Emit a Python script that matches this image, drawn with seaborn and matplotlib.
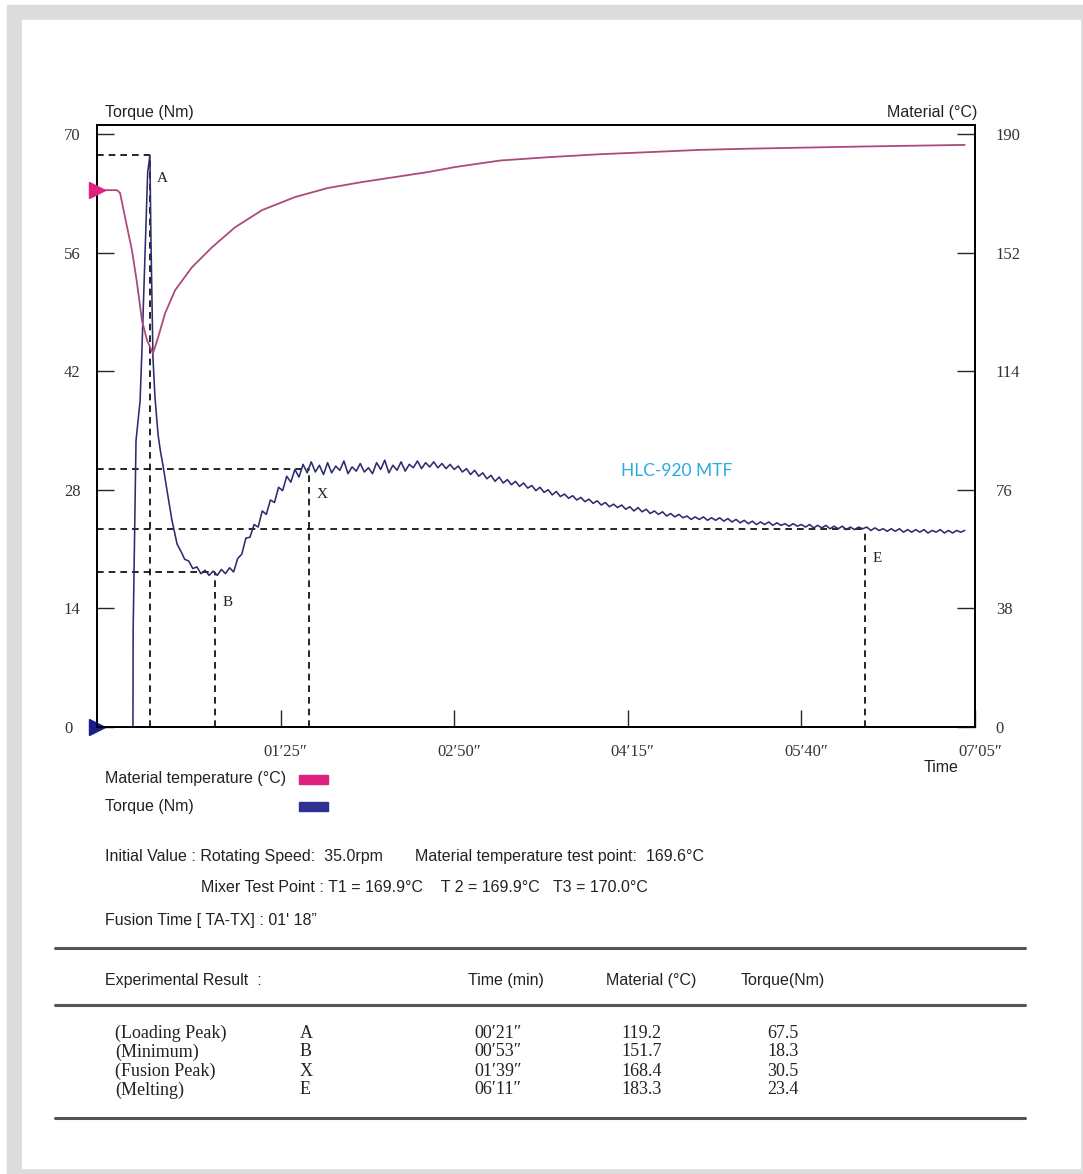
import numpy as np
import pandas as pd
import matplotlib
matplotlib.use("Agg")
import matplotlib.pyplot as plt
import seaborn as sns
from matplotlib import font_manager
from matplotlib.patches import Rectangle
from matplotlib.lines import Line2D
import matplotlib.transforms as mtransforms

# ---------------- data ----------------
# torque curve (time in s, torque in Nm)
torque_t_start = [-4.9, 12.7, 12.8, 14.2, 16.2, 17.1, 18.6, 19.9, 21.0, 21.5, 22.5, 23.5,
                  25.0, 26.2, 27.4, 29.4, 31.8, 34.3, 36.7, 38.0]
torque_v_start = [0, 0, 11.4, 33.8, 38.5, 44.5, 55.9, 65.4, 67.5, 57.8, 43.6, 38.9,
                  34.5, 32.5, 30.9, 27.9, 24.4, 21.6, 20.5, 19.8]
torque_t_rest = list(range(40, 421, 2))
torque_v_rest = [
    19.6, 18.7, 18.9, 18.1, 18.5, 17.9, 18.4, 17.9, 18.6, 18.1,
    18.8, 18.3, 19.9, 20.4, 22.3, 22.4, 23.9, 23.6, 25.5, 25.1,
    26.8, 26.5, 28.3, 27.9, 29.6, 28.9, 30.4, 29.5, 31.0, 30.0,
    31.3, 30.1, 30.9, 29.8, 31.2, 30.0, 30.8, 30.3, 31.4, 29.9,
    30.7, 30.2, 31.1, 30.1, 30.6, 29.9, 31.2, 30.4, 31.5, 30.0,
    30.9, 30.3, 31.3, 30.2, 31.0, 30.6, 31.4, 30.5, 31.2, 30.7,
    31.3, 30.6, 31.1, 30.5, 31.0, 30.4, 30.8, 30.1, 30.5, 29.8,
    30.3, 29.6, 30.0, 29.3, 29.7, 29.0, 29.5, 28.8, 29.2, 28.6,
    29.0, 28.4, 28.8, 28.2, 28.5, 27.9, 28.3, 27.7, 28.0, 27.4,
    27.8, 27.2, 27.5, 27.0, 27.3, 26.8, 27.1, 26.6, 26.9, 26.4,
    26.7, 26.2, 26.5, 26.0, 26.3, 25.9, 26.2, 25.7, 26.0, 25.5,
    25.9, 25.4, 25.7, 25.2, 25.5, 25.1, 25.4, 24.9, 25.2, 24.8,
    25.1, 24.7, 24.9, 24.5, 24.8, 24.5, 24.8, 24.4, 24.7, 24.4,
    24.7, 24.3, 24.6, 24.2, 24.5, 24.1, 24.4, 24.0, 24.3, 23.9,
    24.2, 23.9, 24.2, 23.8, 24.1, 23.8, 24.0, 23.7, 24.0, 23.7,
    23.9, 23.6, 23.9, 23.5, 23.8, 23.5, 23.8, 23.4, 23.7, 23.4,
    23.7, 23.3, 23.6, 23.3, 23.6, 23.4, 23.6, 23.2, 23.5, 23.2,
    23.4, 23.1, 23.4, 23.1, 23.4, 23.0, 23.3, 23.0, 23.3, 23.0,
    23.3, 22.9, 23.2, 23.0, 23.3, 22.9, 23.2, 22.9, 23.2, 23.0,
    23.2]

# material temperature curve (time in s, °C)
temp_t = [-4.9, 4.9, 6.4, 8.8, 12.2, 14.7, 17.1, 19.6, 22.5, 25.0, 28.4, 33.3, 41.6,
          51.4, 62.7, 75.9, 92.1, 108.2, 124.9, 141.0, 157.2, 170.4, 192.5, 217, 241,
          266, 290, 315, 339, 371, 420]
temp_v = [172.0, 172.0, 171.1, 163.4, 152.8, 142.2, 130.3, 123.9, 119.7, 124.8, 132.5,
          139.9, 147.3, 153.7, 160.1, 165.6, 169.8, 172.7, 174.6, 176.2, 177.8, 179.4,
          181.5, 182.6, 183.5, 184.2, 184.9, 185.3, 185.6, 186.0, 186.5]

# characteristic points
pt_names = ["(Loading Peak)", "(Minimum)", "(Fusion Peak)", "(Melting)"]
pt_letters = ["A", "B", "X", "E"]
pt_time_s = [21, 53, 99, 371]
pt_time_lbl = ["00\u203221\u2033", "00\u203253\u2033", "01\u203239\u2033", "06\u203211\u2033"]
pt_material = ["119.2", "151.7", "168.4", "183.3"]
pt_torque = [67.5, 18.3, 30.5, 23.4]

x_ticks = [85, 170, 255, 340, 425]
x_tick_labels = ["01\u203225\u2033", "02\u203250\u2033", "04\u203215\u2033", "05\u203240\u2033", "07\u203205\u2033"]
left_ticks = [0, 14, 28, 42, 56, 70]
right_ticks = [0, 38, 76, 114, 152, 190]

# ---------------- style ----------------
sns.set_style("white")
avail = {f.name for f in font_manager.fontManager.ttflist}
NARROW = "Liberation Sans Narrow" if "Liberation Sans Narrow" in avail else "Liberation Sans"
SANS = [NARROW, "DejaVu Sans"]
SERIF = ["Liberation Serif", "DejaVu Serif"]
plt.rcParams["font.family"] = SANS
TXT = 12.5 if NARROW == "Liberation Sans Narrow" else 11.5

W, H = 1083, 1174
fig = plt.figure(figsize=(W / 100, H / 100), dpi=100)
fig.patch.set_facecolor("white")


def fx(px):
    return px / W


def fy(py):
    return 1 - py / H


# frame
fig.patches.append(Rectangle((fx(7), fy(1174)), fx(1083) - fx(7), fy(5) - fy(1174),
                             transform=fig.transFigure, color="#dcdcde", zorder=-10))
fig.patches.append(Rectangle((fx(22), fy(1168)), fx(1080) - fx(22), fy(20) - fy(1168),
                             transform=fig.transFigure, color="white", zorder=-9))

ax = fig.add_axes([fx(97), fy(727), fx(975) - fx(97), fy(125) - fy(727)])
ax2 = ax.twinx()
XMIN, XMAX = -4.9, 425
YTOP = 71.06
ax.set_xlim(XMIN, XMAX)
ax.set_ylim(0, YTOP)
ax2.set_ylim(0, 190 * YTOP / 70)
ax.patch.set_alpha(0)

TORQUE_C = "#2c2c6e"
TEMP_C = "#ab4a7c"

df_torque = pd.DataFrame({"t": torque_t_start + torque_t_rest,
                          "torque": torque_v_start + torque_v_rest})
df_temp = pd.DataFrame({"t": temp_t, "temp": temp_v})

sns.lineplot(data=df_torque, x="t", y="torque", ax=ax, color=TORQUE_C, lw=1.15,
             estimator=None, sort=False, zorder=3)
sns.lineplot(data=df_temp, x="t", y="temp", ax=ax2, color=TEMP_C, lw=1.3,
             estimator=None, sort=False, zorder=3)

# reference dashed lines
dash = (0, (4, 3))
for t, v in zip(pt_time_s, pt_torque):
    ax.plot([XMIN, t], [v, v], color="black", lw=1.2, ls=dash, zorder=2)
    ax.plot([t, t], [0, v], color="black", lw=1.2, ls=dash, zorder=2)

# letters
letter_pos = [(26.9, 64.8), (58.8, 14.7), (105.3, 27.4), (377, 19.9)]
for (lx, ly), s in zip(letter_pos, pt_letters):
    ax.text(lx, ly, s, fontfamily=SERIF, fontsize=11, ha="center", va="center", color="#222222")

# start markers
ax2.plot([XMIN], [172], marker=">", ms=11, color="#e0207f", clip_on=False, zorder=5)
ax.plot([XMIN], [0], marker=">", ms=11, color="#1c1c8c", clip_on=False, zorder=5)

# axes styling
for a in (ax, ax2):
    for sp in a.spines.values():
        sp.set_color("black")
        sp.set_linewidth(1.3)
        sp.set_visible(True)

ax.set_xticks(x_ticks)
ax.set_xticklabels(x_tick_labels, fontfamily=SERIF, fontsize=12, color="#333333")
ax.set_yticks(left_ticks)
ax.set_yticklabels([str(v) for v in left_ticks], fontfamily=SERIF, fontsize=12,
                   color="#333333", ha="left")
ax2.set_yticks(right_ticks)
ax2.set_yticklabels([str(v) for v in right_ticks], fontfamily=SERIF, fontsize=12,
                    color="#333333")
ax.tick_params(axis="x", direction="in", length=12, width=1, pad=12, bottom=True)
ax.tick_params(axis="y", direction="in", length=12, width=1, pad=23.8, left=True)
ax2.tick_params(axis="y", direction="in", length=13, width=1, pad=15, right=True)
ax.set_xlabel("")
ax.set_ylabel("")
ax2.set_ylabel("")
for lbl in ax.get_xticklabels():
    lbl.set_transform(lbl.get_transform() + mtransforms.ScaledTranslation(5 / 100, 0, fig.dpi_scale_trans))

# axis titles
fig.text(fx(105), fy(112), "Torque (Nm)", ha="left", va="center", fontsize=TXT, color="#222222")
fig.text(fx(977), fy(112), "Material (°C)", ha="right", va="center", fontsize=TXT, color="#222222")
fig.text(fx(924), fy(768), "Time", ha="left", va="center", fontsize=TXT, color="#222222")
fig.text(fx(677), fy(471), "HLC-920 MTF", ha="center", va="center", fontsize=12.5,
         color="#29abe2", fontfamily=["Lato", "DejaVu Sans"])

# legend
fig.text(fx(105), fy(779), "Material temperature (°C)", ha="left", va="center", fontsize=TXT, color="#222222")
fig.text(fx(105), fy(807), "Torque (Nm)", ha="left", va="center", fontsize=TXT, color="#222222")
fig.patches.append(Rectangle((fx(299), fy(784)), fx(328) - fx(299), fy(775) - fy(784),
                             transform=fig.transFigure, color="#e0207f"))
fig.patches.append(Rectangle((fx(299), fy(811)), fx(328) - fx(299), fy(802) - fy(811),
                             transform=fig.transFigure, color="#2e3192"))

# info text
fig.text(fx(105), fy(857), "Initial Value : Rotating Speed:  35.0rpm", ha="left", va="center",
         fontsize=TXT, color="#222222")
fig.text(fx(415), fy(857), "Material temperature test point:  169.6°C", ha="left", va="center",
         fontsize=TXT, color="#222222")
fig.text(fx(201), fy(888), "Mixer Test Point : T1 = 169.9°C    T 2 = 169.9°C   T3 = 170.0°C",
         ha="left", va="center", fontsize=TXT, color="#222222")
fig.text(fx(105), fy(921), "Fusion Time [ TA-TX] : 01' 18\u201d", ha="left", va="center",
         fontsize=TXT, color="#222222")

for yy in (948, 1005, 1118):
    fig.add_artist(Line2D([fx(55), fx(1025)], [fy(yy), fy(yy)], color="#555555", lw=2.2,
                          transform=fig.transFigure))

fig.text(fx(105), fy(981), "Experimental Result  :", ha="left", va="center", fontsize=TXT, color="#222222")
fig.text(fx(468), fy(981), "Time (min)", ha="left", va="center", fontsize=TXT, color="#222222")
fig.text(fx(606), fy(981), "Material (°C)", ha="left", va="center", fontsize=TXT, color="#222222")
fig.text(fx(741), fy(981), "Torque(Nm)", ha="left", va="center", fontsize=TXT, color="#222222")

row_y = [1033, 1052, 1071, 1090]
for i, yy in enumerate(row_y):
    kw = dict(ha="left", va="center", fontsize=13, fontfamily=SERIF, color="#222222")
    fig.text(fx(115), fy(yy), pt_names[i], **kw)
    fig.text(fx(300), fy(yy), pt_letters[i], **kw)
    fig.text(fx(474), fy(yy), pt_time_lbl[i], **kw)
    fig.text(fx(621), fy(yy), pt_material[i], **kw)
    fig.text(fx(767), fy(yy), f"{pt_torque[i]:.1f}", **kw)

fig.savefig("out.png", dpi=100)
